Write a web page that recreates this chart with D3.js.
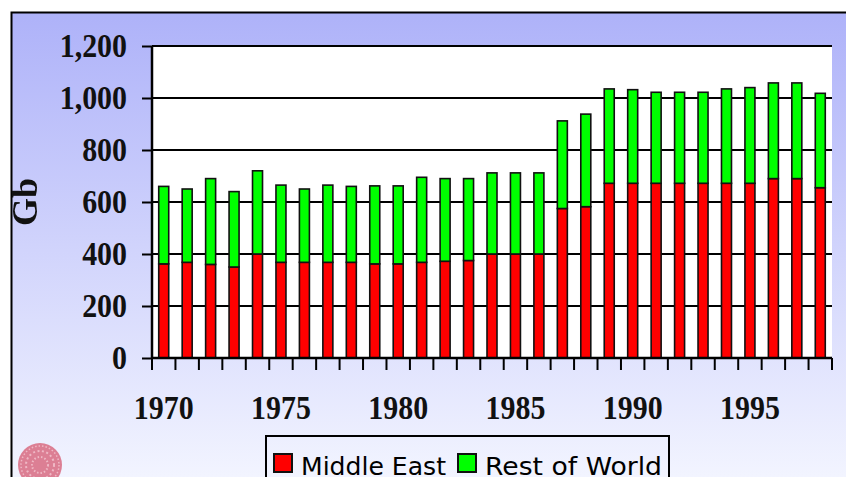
<!DOCTYPE html>
<html><head><meta charset="utf-8">
<script src="https://cdn.jsdelivr.net/npm/d3@7/dist/d3.min.js"></script>
<style>html,body{margin:0;padding:0;background:#fff}svg{display:block;filter:blur(0.4px)}</style>
</head><body><svg id="c" width="846" height="477"></svg>
<script>
const years = d3.range(1970, 1999);
const middleEast = [362,368,360,350,400,368,368,368,368,362,362,368,372,375,400,400,400,575,582,672,672,672,672,672,672,672,690,690,655];
const restOfWorld = [298,282,330,290,320,297,282,297,292,300,300,327,318,315,312,312,312,337,356,363,360,350,350,350,363,368,368,368,363];
const yTicks = [0,200,400,600,800,1000,1200];
const xLabels = [1970,1975,1980,1985,1990,1995];
const seriesNames = ["Middle East","Rest of World"];
const seriesColors = ["#ff0000","#00ff00"];

const svg = d3.select("#c");
const defs = svg.append("defs");
const g = defs.append("linearGradient").attr("id","bg").attr("x1",0).attr("x2",0).attr("y1",0).attr("y2",1);
g.append("stop").attr("offset",0).attr("stop-color","#aeb2f9");
g.append("stop").attr("offset",1).attr("stop-color","#f3f5ff");
svg.append("rect").attr("x",11.5).attr("y",12.5).attr("width",840).attr("height",470)
  .attr("fill","url(#bg)").attr("stroke","#000").attr("stroke-width",2);

const L=152,R=832,T=46,B=358;
const sx = 0.88;
const x = d3.scaleBand().domain(years).range([L,R]);
const y = d3.scaleLinear().domain([0,1200]).range([B,T]);
svg.append("rect").attr("x",L).attr("y",T).attr("width",R-L).attr("height",B-T).attr("fill","#fff");

const serif = "'Liberation Serif','Times New Roman',serif";
const ya = svg.append("g").attr("transform",`translate(${L},0)`)
  .call(d3.axisLeft(y).tickValues(yTicks).tickSize(10).tickPadding(15).tickFormat(d3.format(",")));
ya.selectAll("text").attr("font-family",serif).attr("font-weight","bold").attr("font-size",34).attr("fill","#111")
  .attr("dy","0.32em").attr("x",-25/sx).attr("transform",`scale(${sx},1)`);
ya.selectAll("line").attr("stroke","#000").attr("stroke-width",2);
ya.select(".domain").attr("stroke","#000").attr("stroke-width",2.5).attr("d",`M0,${T}V${B}`);

svg.append("g").selectAll("line").data(yTicks.filter(d=>d>0)).join("line")
  .attr("x1",L).attr("x2",R).attr("y1",d=>y(d)).attr("y2",d=>y(d))
  .attr("stroke","#000").attr("stroke-width",2);

const barW = 10;
const barX = i => x(years[i]) + (x.bandwidth()-barW)/2;
const bars = svg.append("g").attr("stroke","#111").attr("stroke-width",1.6);
bars.selectAll("rect.me").data(middleEast).join("rect").attr("class","me")
  .attr("x",(d,i)=>barX(i)).attr("width",barW)
  .attr("y",d=>y(d)).attr("height",d=>B-y(d)).attr("fill",seriesColors[0]);
bars.selectAll("rect.row").data(restOfWorld).join("rect").attr("class","row")
  .attr("x",(d,i)=>barX(i)).attr("width",barW)
  .attr("y",(d,i)=>y(d+middleEast[i])).attr("height",d=>B-y(d)).attr("fill",seriesColors[1]);

svg.append("line").attr("x1",L).attr("x2",R).attr("y1",B).attr("y2",B).attr("stroke","#000").attr("stroke-width",2.5);
const xa = svg.append("g");
xa.selectAll("line").data(d3.range(0,30)).join("line")
  .attr("x1",i=>L+i*x.step()).attr("x2",i=>L+i*x.step()).attr("y1",B).attr("y2",B+12)
  .attr("stroke","#000").attr("stroke-width",2);
xa.selectAll("text").data(xLabels).join("text")
  .attr("transform",d=>`translate(${x(d)+x.bandwidth()/2},419) scale(${sx},1)`).attr("text-anchor","middle")
  .attr("font-family",serif).attr("font-weight","bold").attr("font-size",34).attr("fill","#111").text(d=>d);

svg.append("text").attr("transform","translate(37,202) rotate(-90)").attr("text-anchor","middle")
  .attr("font-family",serif).attr("font-weight","bold").attr("font-size",36).attr("fill","#111").text("Gb");

// legend
svg.append("rect").attr("x",266).attr("y",436).attr("width",403).attr("height",60)
  .attr("fill","none").attr("stroke","#000").attr("stroke-width",2);
const legX=[274,458], legTX=[301,485];
seriesNames.forEach((n,i)=>{
  svg.append("rect").attr("x",legX[i]).attr("y",454).attr("width",18).attr("height",18)
    .attr("fill",seriesColors[i]).attr("stroke","#111").attr("stroke-width",2);
  svg.append("text").attr("x",legTX[i]).attr("y",475).attr("font-family","'DejaVu Sans',sans-serif")
    .attr("font-size",25).attr("fill","#000").attr("textLength",i?177:145).attr("lengthAdjust","spacingAndGlyphs").text(n);
});

// seal
const seal = svg.append("g").attr("transform","translate(40,465)");
seal.append("circle").attr("r",22).attr("fill","#dc7f94");
seal.append("circle").attr("r",19).attr("fill","none").attr("stroke","#efb8c5").attr("stroke-width",1.5).attr("stroke-dasharray","1.5 2");
seal.append("circle").attr("r",14).attr("fill","none").attr("stroke","#efb8c5").attr("stroke-width",2).attr("stroke-dasharray","2 2.5");
seal.append("circle").attr("r",8).attr("fill","none").attr("stroke","#efb8c5").attr("stroke-width",2).attr("stroke-dasharray","1.5 2");
</script></body></html>
